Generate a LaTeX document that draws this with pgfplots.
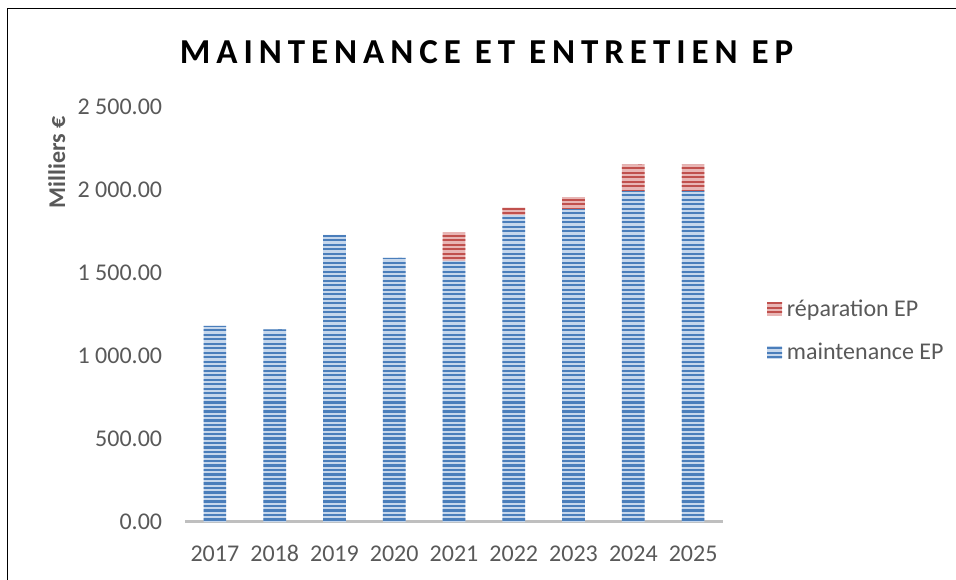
\documentclass[border=0pt]{standalone}
\usepackage{pgfplots}
\pgfplotsset{compat=1.18}
\usetikzlibrary{patterns}
\usepackage{fontspec}
\setmainfont{Carlito}
\newfontfamily\titlefont[LetterSpace=17]{Carlito}
\definecolor{bluedark}{HTML}{4A7EBB}
\definecolor{bluelight}{HTML}{C6D7EC}
\definecolor{reddark}{HTML}{C0504D}
\definecolor{redlight}{HTML}{E8B5B4}
\definecolor{txtgray}{HTML}{595959}
\definecolor{axgray}{HTML}{BFBFBF}
\pgfdeclarepatternformonly{hstripes}{\pgfpoint{-2pt}{-0.2pt}}{\pgfpoint{42pt}{4.7pt}}{\pgfpoint{40pt}{4.5pt}}{%
  \pgfpathrectangle{\pgfpoint{-2pt}{0pt}}{\pgfpoint{44pt}{2.3pt}}\pgfusepath{fill}}
\begin{document}
\begin{tikzpicture}
\useasboundingbox (0,0) rectangle (956pt,579pt);
\draw[line width=1pt] (7.5pt,-1pt) -- (7.5pt,570.7pt) -- (957pt,570.7pt);
\node[font=\titlefont\bfseries\fontsize{35}{42}\selectfont, inner sep=0pt] at (486.5pt,527pt) {MAINTENANCE ET ENTRETIEN EP};
\node[font=\bfseries\fontsize{24}{28}\selectfont, text=txtgray, rotate=90, inner sep=0pt] at (56.7pt,417pt) {Milliers €};
\begin{axis}[
  at={(185pt,57pt)}, anchor=south west,
  width=538pt, height=415.3pt, scale only axis,
  xmin=-0.5, xmax=8.5, ymin=0, ymax=2500,
  ybar stacked, bar width=22.7pt,
  axis line style={draw=none},
  major tick length=0pt, tick style={draw=none},
  xtick={0,1,2,3,4,5,6,7,8},
  xticklabels={2017,2018,2019,2020,2021,2022,2023,2024,2025},
  ytick={0,500,1000,1500,2000,2500},
  yticklabels={0.00,500.00,1 000.00,1 500.00,2 000.00,2 500.00},
  ticklabel style={font=\fontsize{24}{28}\selectfont, text=txtgray, inner sep=0pt},
  yticklabel style={anchor=east, xshift=-22.7pt},
  xticklabel style={anchor=base, yshift=-39pt},
  reverse legend,
  legend style={at={(rel axis cs:1.0762,0.4605)}, anchor=west, draw=none, fill=none,
    font=\fontsize{24}{28}\selectfont, text=txtgray, row sep=25pt, column sep=4.7pt,
    nodes={inner sep=0pt}},
  legend cell align=left,
  legend image code/.code={\path[#1] (0pt,-6.5pt) rectangle (15pt,6.5pt);},
]
\addplot[draw=none, preaction={fill=bluelight}, pattern=hstripes, pattern color=bluedark]
  coordinates {(0,1181) (1,1160) (2,1729) (3,1590) (4,1572) (5,1847) (6,1883) (7,1992) (8,1992)};
\addlegendentry{maintenance EP}
\addplot[draw=none, preaction={fill=redlight}, pattern=hstripes, pattern color=reddark]
  coordinates {(0,0) (1,0) (2,0) (3,0) (4,173) (5,46) (6,72) (7,160) (8,160)};
\addlegendentry{réparation EP}
\draw[color=axgray, line width=3.3pt] (rel axis cs:0,0) -- (rel axis cs:1,0);
\end{axis}
\end{tikzpicture}
\end{document}
